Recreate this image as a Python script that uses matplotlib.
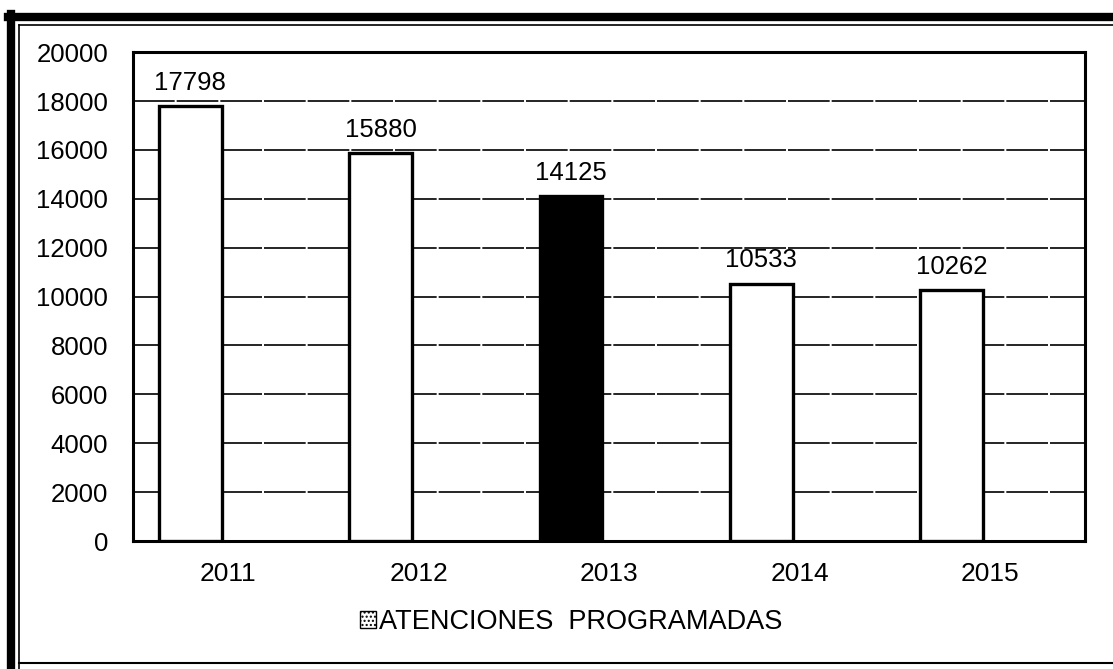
import matplotlib.pyplot as plt
from matplotlib.lines import Line2D
from matplotlib.patches import Patch

plt.rcParams['font.family'] = ['Liberation Sans', 'DejaVu Sans']

# datos
anios = ['2011', '2012', '2013', '2014', '2015']
atenciones = [17798, 15880, 14125, 10533, 10262]
colores = ['white', 'white', 'black', 'white', 'white']
yticks = list(range(0, 20001, 2000))

fig = plt.figure(figsize=(11.13, 6.69), dpi=100)
ax = fig.add_axes([0.1195, 0.1913, 0.8555, 0.7307])

x = list(range(len(anios)))
xb = [i - 0.2 for i in x]
ax.bar(xb, atenciones, width=0.33, color=colores, edgecolor='black', linewidth=2.4, zorder=3)

for xi, v in zip(xb, atenciones):
    ax.annotate(str(v), (xi, v), xytext=(0, 8), textcoords='offset points',
                ha='center', va='bottom', fontsize=18.5)

ax.set_xlim(-0.5, 4.5)
ax.set_ylim(0, 20000)
ax.set_yticks(yticks)
ax.set_yticklabels([str(t) for t in yticks], fontsize=18.5)
ax.set_xticks(x)
ax.set_xticklabels(anios, fontsize=19)
ax.tick_params(axis='y', length=0, pad=18)
ax.tick_params(axis='x', length=0, pad=15)
ax.grid(axis='y', color='black', linestyle=(0, (25, 1.2)), linewidth=1.2, zorder=0)
for s in ax.spines.values():
    s.set_linewidth(2.2)
    s.set_color('black')

fig.legend(handles=[Patch(facecolor='white', edgecolor='black', hatch='....', label='ATENCIONES  PROGRAMADAS')],
           loc='center', bbox_to_anchor=(571 / 1113, 1 - 622 / 669), frameon=False,
           fontsize=19.5, handlelength=0.6, handleheight=0.6, handletextpad=0.1)

# marco exterior
W, H = 1113, 669
def linea(x0, y0, x1, y1, lw):
    fig.add_artist(Line2D([x0 / W, x1 / W], [1 - y0 / H, 1 - y1 / H], color='black', linewidth=lw))

linea(11, 14, 11, 669, 6)
linea(8, 17, 1113, 17, 6)
linea(19, 25, 19, 669, 1.2)
linea(19, 25, 1113, 25, 1.2)
linea(19, 663, 1113, 663, 1.5)

fig.savefig('out.png', dpi=100)
